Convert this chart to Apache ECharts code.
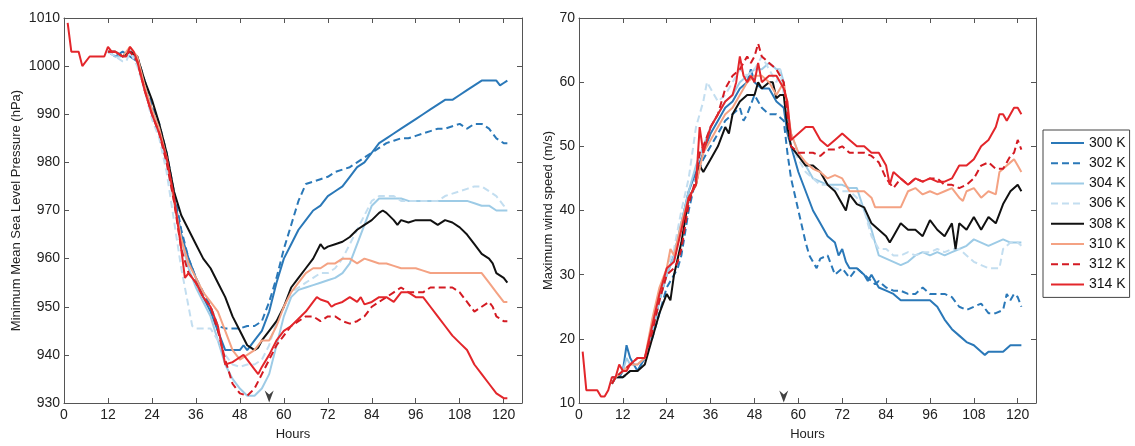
<!DOCTYPE html>
<html><head><meta charset="utf-8">
<script src="https://cdn.jsdelivr.net/npm/echarts@6/dist/echarts.min.js"></script>
<style>html,body{margin:0;padding:0;background:#fff}#c{width:1135px;height:446px}</style>
</head><body><div id="c"></div>
<script>
const seriesNames = ['300 K','302 K','304 K','306 K','308 K','310 K','312 K','314 K'];
const seriesColors = ['#2a78b8','#2a78b8','#9dcbe6','#c3def0','#111111','#f4a283','#d41a22','#e3262b'];
const seriesDashed = [false,true,false,true,false,false,true,false];
const xTicks = [0,12,24,36,48,60,72,84,96,108,120];
const markerHour = 56;

// Minimum mean sea level pressure (hPa), [hour, value]
const mslp300 = [[12,1003],[14,1002],[16,1003],[18,1002],[20,1001],[22,996],[24,991],[26,987],[28,981],[30,973],[32,965],[34,960],[36,956],[38,952],[40,949],[42,945],[44,941],[46,941],[48,941],[49,942],[50,941],[52,943],[54,945],[56,949],[58,955],[60,960],[62,963],[64,966],[66,968],[68,970],[70,971],[72,973],[74,974],[76,975],[78,977],[80,979],[82,980],[84,982],[86,984],[88,985],[90,986],[92,987],[94,988],[96,989],[98,990],[100,991],[102,992],[104,993],[106,993],[108,994],[110,995],[112,996],[114,997],[116,997],[118,997],[119,996],[120,996.5],[121,997]];
const mslp302 = [[12,1003],[14,1003],[16,1002],[18,1003],[20,1002],[22,997],[24,992],[26,988],[28,982],[30,974],[32,966],[34,960],[36,956],[38,953],[40,950],[42,946],[44,945.5],[46,945.5],[48,945.5],[50,946],[52,946],[54,947],[56,951],[58,956],[60,962],[62,967],[64,972],[66,975.5],[68,976],[70,976.5],[72,977],[74,978],[76,978.5],[78,979],[80,980],[82,981],[84,982],[86,983],[88,984],[90,984.5],[92,985],[94,985],[96,985.5],[98,986],[100,986.5],[102,987],[104,987],[106,987.5],[108,988],[110,987],[112,988],[114,988],[116,987],[118,985],[120,984],[121,984]];
const mslp304 = [[12,1003],[14,1002],[16,1002],[18,1003],[20,1001],[22,996],[24,990],[26,986],[28,980],[30,972],[32,964],[34,958],[36,954],[38,951],[40,948],[42,943],[44,938],[46,935],[48,933],[50,931.5],[52,931.5],[54,933],[56,936],[58,942],[60,948],[62,952],[64,953.5],[66,954],[68,954.5],[70,955],[72,955.5],[74,956],[76,957],[78,959],[80,963],[82,967],[84,971],[86,972.5],[88,972.5],[90,972.5],[92,972.5],[94,972],[96,972],[98,972],[100,972],[102,972],[104,972],[106,972],[108,972],[110,972],[112,971.5],[114,971],[116,971],[118,970],[120,970],[121,970]];
const mslp306 = [[12,1003],[14,1002],[16,1001],[17,1001],[18,1003],[20,1000],[22,995],[24,989],[26,985],[28,978],[30,968],[32,958],[34,950],[35,946],[36,945.5],[38,945.5],[40,945.5],[42,943],[44,940],[46,938],[48,937.5],[50,938],[52,938],[54,939],[56,942],[58,947],[60,950],[62,953],[64,954],[66,955],[68,956],[70,957],[72,957],[74,958],[76,960],[78,963],[80,966],[82,969],[84,972],[86,973],[88,973],[90,973],[92,972],[94,972],[96,972],[98,972],[100,972],[102,972],[104,973],[106,973.5],[108,974],[110,974.5],[112,975],[114,975],[116,974],[118,973],[120,971],[121,970.5]];
const mslp308 = [[12,1003],[14,1003],[16,1002],[18,1003],[20,1002],[22,997],[24,993],[26,988],[28,982],[30,974],[32,969],[34,966],[36,963],[38,960],[40,958],[42,955],[44,952],[46,948],[48,945],[50,942],[51,941.5],[52,941],[53,941.5],[54,943],[56,945],[58,947],[60,950],[62,954],[64,956],[66,958],[68,960],[70,963],[71,962],[72,962.5],[74,963],[76,963.5],[78,964.5],[80,966],[82,967],[84,968],[86,969.5],[87,970],[88,969.5],[90,968],[91,967],[92,968],[94,967.5],[96,968],[98,968],[100,968],[102,967],[104,968],[106,967.5],[108,966.5],[110,965],[112,963],[114,961],[116,960],[117,959],[118,957],[120,956],[121,955]];
const mslp310 = [[12,1003],[14,1003],[16,1002],[18,1004],[20,1002],[22,996],[24,991],[26,987],[28,981],[30,972],[32,964],[34,959],[36,956],[38,953],[40,951],[42,949],[44,945],[46,941],[48,939],[50,940],[52,941],[54,943],[56,943],[58,946],[60,950],[62,953],[64,955],[66,957],[68,958],[70,958],[72,959],[74,959],[76,960],[78,960],[80,959],[82,960],[84,959.5],[86,959],[88,959],[90,958.5],[92,958],[94,958],[96,958],[98,957.5],[100,957],[104,957],[108,957],[112,957],[114,957],[116,955],[118,953],[120,951],[121,951]];
const mslp312 = [[12,1003],[14,1003],[16,1002],[18,1003],[20,1001],[22,995],[24,990],[26,986],[28,980],[30,972],[32,962],[34,957],[36,955],[38,952],[40,950],[42,945],[44,939],[46,934],[48,932],[50,931.5],[52,933],[54,936],[56,939],[58,942],[60,944],[62,946],[64,947],[66,948],[68,948],[70,947],[72,948],[74,948],[76,947],[78,946.5],[80,947],[82,948],[84,950],[86,951],[88,952],[90,953],[92,954],[94,953],[96,953],[98,953],[100,954],[102,954],[104,954],[106,954],[108,953],[110,951],[112,949],[114,950],[116,951],[117,950],[118,948],[120,947],[121,947]];
const mslp314 = [[1,1009],[2,1003],[4,1003],[5,1000],[7,1002],[11,1002],[12,1004],[13,1003],[14,1003],[16,1002],[17,1002],[18,1004],[19,1003],[20,1001],[22,995],[24,990],[26,986],[28,981],[30,973],[32,962],[33,956],[34,957],[36,955],[38,952],[40,950],[42,946],[44,938],[46,938.5],[48,939.5],[49,940],[50,939],[52,937],[53,936],[54,937.5],[56,940],[58,943],[60,945],[62,946],[64,947.5],[66,949],[68,951],[69,952],[70,951.5],[72,951],[73,950],[74,950.5],[76,951],[78,952],[80,951],[81,952],[82,950.5],[84,951],[86,952],[88,952],[90,951],[92,953],[94,953],[96,952],[98,952],[100,950],[102,948],[104,946],[106,944],[108,942.5],[110,941],[112,938],[114,936],[116,934],[118,932],[120,931],[121,931]];

// Maximum wind speed (m/s), [hour, value]
const wind300 = [[9,14],[10,14],[11,14],[12,15],[13,19],[14,17],[15,16],[16,15],[17,16],[18,17],[20,21],[22,26],[24,30],[26,33],[28,38],[30,43],[32,46],[34,49],[36,52],[38,54],[40,56],[42,57],[44,59],[46,60],[47,62],[48,60],[50,59],[52,59],[54,57],[56,56],[57,52],[58,50],[60,46],[62,43],[64,40],[66,38],[68,36],[70,35],[71,33],[72,34],[73,32],[74,31],[76,31],[78,30],[79,29],[80,30],[82,28],[84,27.5],[86,27],[88,26],[90,26],[92,26],[94,26],[96,26],[98,25],[100,23],[102,21.5],[104,20.5],[106,19.5],[108,19],[110,18],[111,17.5],[112,18],[114,18],[116,18],[118,19],[120,19],[121,19]];
const wind302 = [[9,13],[10,14],[12,14],[14,15],[16,15],[18,17],[20,20],[22,24],[24,28],[26,30],[27,31],[28,33],[30,40],[32,45],[34,48],[36,50],[38,52],[40,54],[42,55],[44,56],[45,54],[46,55],[48,58],[49,57],[50,56],[52,55],[54,55],[56,54],[57,49],[58,45],[60,40],[62,35],[63,33],[64,32],[65,31],[66,32.5],[68,33],[70,30],[72,31],[74,29.5],[76,31],[78,30],[80,29],[81,28.5],[82,29],[84,28],[86,27.5],[88,27.5],[90,27],[92,27],[94,28],[96,27],[98,27],[100,27],[102,26.5],[104,25],[106,24.5],[108,25],[110,25.5],[112,24],[114,24],[116,24.5],[117,27],[118,26],[119,27],[120,26.5],[121,25]];
const wind304 = [[9,13],[10,14],[12,15],[13,17],[14,16],[16,16],[18,17],[20,21],[22,26],[24,30],[26,33],[28,38],[30,43],[32,47],[34,50],[36,53],[38,55],[40,57],[42,58],[44,60],[46,61],[48,62],[50,62],[52,63],[54,62],[55,62],[56,60],[57,55],[58,52],[60,49],[62,47],[64,45],[66,44.5],[68,44],[70,44],[72,44],[74,43.5],[76,43.5],[78,40],[80,37],[82,33],[84,32.5],[86,32],[88,31.5],[90,32],[92,33],[94,33.5],[96,33],[98,33.5],[100,33],[102,33.5],[104,34],[106,34.5],[108,35.5],[110,35],[112,34.5],[114,35],[116,35.5],[118,35],[120,35],[121,35]];
const wind306 = [[9,13],[10,14],[12,15],[14,16],[16,16],[18,17],[20,22],[22,27],[24,31],[26,34],[28,40],[30,45],[32,53],[34,57],[35,60],[36,59],[38,57],[40,58],[42,60],[44,62],[46,61],[48,62],[50,64],[52,62],[54,60],[55,62],[56,58],[57,53],[58,50],[60,48],[62,46],[64,45],[66,44],[68,44],[70,43.5],[72,43],[74,43],[76,42],[78,40],[80,36],[82,34],[84,34],[86,33],[88,33],[90,33.5],[92,33],[94,33.5],[96,33.5],[98,34],[100,33.5],[102,34],[104,34],[106,33],[108,32],[110,31.5],[112,31],[114,31],[115,31],[116,34],[118,35],[120,35],[121,34.5]];
const wind308 = [[9,13],[10,14],[12,14],[14,15],[16,15],[18,16],[20,20],[22,24],[24,27],[25,26],[26,30],[28,35],[30,42],[32,44],[33,47],[34,46],[36,48],[38,50],[40,53],[41,52],[42,55],[44,57],[46,58],[48,58],[49,60],[50,59],[52,60],[53,60],[54,57.5],[55,58],[56,58],[57,53],[58,50],[60,48.5],[62,47],[64,47],[66,46],[68,44],[70,43],[72,41],[73,40],[74,42.5],[76,41],[78,40.5],[80,38],[82,37],[84,36],[85,35],[86,36],[88,38],[90,37],[92,37],[94,36],[96,38.5],[98,37],[100,36],[102,38],[103,34],[104,38],[106,37],[108,39],[110,37],[112,39],[114,38],[116,41],[118,43],[120,44],[121,43]];
const wind310 = [[9,13],[10,14],[12,15],[14,16],[16,16],[18,17],[20,23],[22,28],[24,31],[25,34],[26,33],[28,38],[30,42],[32,44],[34,49],[36,51],[38,53],[40,55],[42,56],[44,58],[46,60],[48,61],[50,61],[52,60],[54,58],[56,60],[57,56],[58,52],[60,49],[62,47.5],[64,46.5],[66,46],[68,45],[70,45.5],[72,45],[74,43],[76,43],[78,43],[80,42],[81,40.5],[84,40.5],[86,40.5],[88,40.5],[90,43],[92,43.5],[94,42.5],[96,43],[98,42.5],[100,43],[102,43.5],[104,42],[105,41.5],[106,43],[108,43.5],[110,42],[112,43],[114,42.5],[115,46],[118,47.5],[119,48],[120,47],[121,46]];
const wind312 = [[9,13],[10,14],[12,15],[14,16],[16,17],[18,17],[20,21],[22,26],[24,30],[26,31],[27,32],[28,34],[30,41],[32,45],[33,49],[34,50],[36,53],[38,55],[40,59],[42,61],[44,62],[46,64],[47,63],[48,64],[49,66],[50,64],[52,63],[54,62],[56,60],[57,55],[58,50],[60,49],[62,49],[64,49],[66,48.5],[68,49.5],[70,49.5],[72,50],[74,49],[76,49],[78,49],[80,48.5],[82,47.5],[84,45],[86,43.5],[88,45],[90,44],[92,45],[94,44.5],[96,45],[98,45],[100,44],[102,44],[104,43.5],[106,44],[108,45],[110,47],[112,47.5],[114,46.5],[116,46.5],[118,48.5],[119,49],[120,51],[121,49.5]];
const wind314 = [[1,18],[2,12],[5,12],[6,11],[7,11],[8,12],[9,14],[10,14],[11,16],[12,15],[13,15],[14,16],[16,17],[18,17],[20,22],[22,27],[24,31],[26,32],[28,37],[30,42],[32,44],[33,53],[34,49],[35,51],[36,53],[38,55],[40,57],[42,58],[43,60],[44,64],[45,61],[46,60],[47,61],[48,60],[49,63],[50,60],[52,61],[54,61],[56,59],[57,57],[58,51],[60,52],[62,53],[64,53],[66,51],[68,50],[70,51],[72,52],[74,51],[76,50],[78,50],[80,49],[82,49],[84,47],[85,44],[86,46],[88,45],[90,44],[92,45],[94,44.5],[96,45],[98,44.5],[100,44.5],[102,45],[104,47],[106,47],[108,48],[110,50],[112,51],[114,53],[115,55],[116,55],[117,54],[118,55],[119,56],[120,56],[121,55]];

const mslpData = [mslp300,mslp302,mslp304,mslp306,mslp308,mslp310,mslp312,mslp314];
const windData = [wind300,wind302,wind304,wind306,wind308,wind310,wind312,wind314];

const FONT = 'Liberation Sans, Arial, sans-serif';
const axisColor = '#555';
function xAx(grid, pos, showLabel, name) {
  return {
    type:'value', gridIndex:grid, position:pos, min:0, max:125, interval:12,
    name: name || '', nameLocation:'middle', nameGap:25,
    nameTextStyle:{fontFamily:FONT, fontSize:13, color:'#222'},
    axisLine:{show:true, onZero:false, lineStyle:{color:axisColor, width:1}},
    axisTick:{show:true, inside:true, length:5, lineStyle:{color:axisColor}},
    axisLabel:{show:showLabel, fontFamily:FONT, fontSize:14, color:'#222', margin:5,
      formatter: v => xTicks.indexOf(v) >= 0 ? String(v) : ''},
    splitLine:{show:false}
  };
}
function yAx(grid, pos, showLabel, min, max, name, gap) {
  return {
    type:'value', gridIndex:grid, position:pos, min:min, max:max, interval:10,
    name: name || '', nameLocation:'middle', nameGap:gap || 40, nameRotate:90,
    nameTextStyle:{fontFamily:FONT, fontSize:13, color:'#222'},
    axisLine:{show:true, onZero:false, lineStyle:{color:axisColor, width:1}},
    axisTick:{show:true, inside:true, length:5, lineStyle:{color:axisColor}},
    axisLabel:{show:showLabel, fontFamily:FONT, fontSize:14, color:'#222', margin:4,
      formatter: v => String(v)},
    splitLine:{show:false}
  };
}

const series = [];
function addPanel(dataSets, xi, yi) {
  dataSets.forEach((d, i) => {
    series.push({
      name: seriesNames[i], type:'line', xAxisIndex:xi, yAxisIndex:yi,
      data: d, symbol:'circle', showSymbol:false, animation:false,
      lineStyle:{color:seriesColors[i], width:2, type: seriesDashed[i] ? [7,4] : 'solid'},
      itemStyle:{color:seriesColors[i]}
    });
  });
}
addPanel(mslpData, 0, 0);
addPanel(windData, 2, 2);

const arrowPath = 'path://M0,0 L5,4 L10,0 L5,12 Z';
series.push({type:'scatter', xAxisIndex:0, yAxisIndex:0, data:[[markerHour,930]], symbol:arrowPath,
  symbolSize:[9,12], symbolOffset:[0,-6.5], itemStyle:{color:'#111'}, silent:true, animation:false, z:5});
series.push({type:'scatter', xAxisIndex:2, yAxisIndex:2, data:[[markerHour,10]], symbol:arrowPath,
  symbolSize:[9,12], symbolOffset:[0,-6.5], itemStyle:{color:'#111'}, silent:true, animation:false, z:5});

const option = {
  backgroundColor:'#fff',
  animation:false,
  grid:[
    {left:64, top:18, width:458, height:388},
    {left:579, top:18, width:457, height:388}
  ],
  xAxis:[
    xAx(0,'bottom',true,'Hours'), xAx(0,'top',false),
    xAx(1,'bottom',true,'Hours'), xAx(1,'top',false)
  ],
  yAxis:[
    yAx(0,'left',true,930,1010,'Minimum Mean Sea Level Pressure (hPa)',41), yAx(0,'right',false,930,1010),
    yAx(1,'left',true,10,70,'Maximum wind speed (m/s)',24), yAx(1,'right',false,10,70)
  ],
  legend:{
    data: seriesNames, orient:'vertical', left:1043, top:130,
    itemWidth:33, itemHeight:14, itemGap:6.2,
    padding:[6,4,6,7], borderColor:'#444', borderWidth:1, backgroundColor:'#fff',
    textStyle:{fontFamily:FONT, fontSize:14, color:'#111'},
    itemStyle:{opacity:0},
    selectedMode:false
  },
  series: series
};
echarts.init(document.getElementById('c'), null, {renderer:'canvas'}).setOption(option);
</script></body></html>
